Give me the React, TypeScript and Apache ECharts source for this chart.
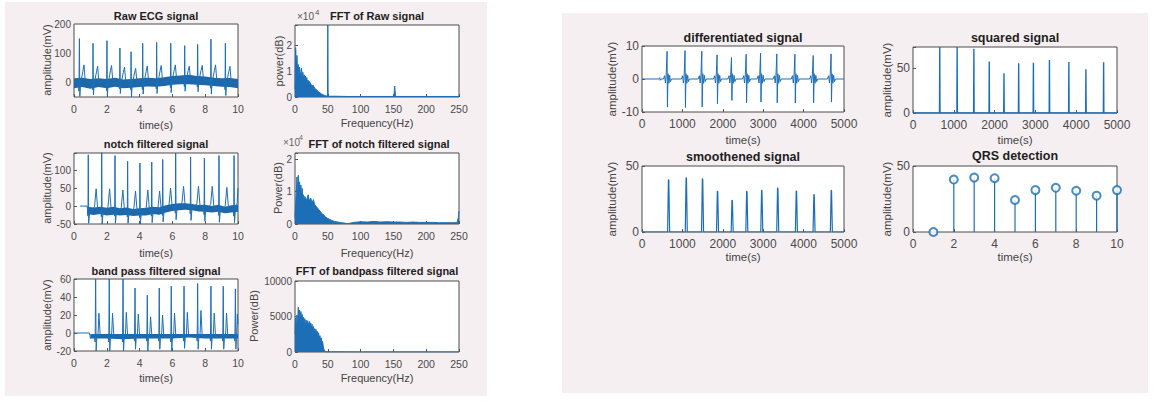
import React, { useEffect, useRef } from 'react';
import * as echarts from 'echarts';

const FONT = '"Liberation Sans", Arial, Helvetica, sans-serif';
const BLUE = '#1c6fb6';
const BAND = '#1e67aa';

// ---------------- data ----------------
// Raw ECG signal: [time(s), amplitude(mV)] pairs, flat
const rawEcg = [
  0, 2, 0.27, 0,
  0.3, -30, 0.33, 150, 0.355, -48, 0.4, -5, 0.54, 38, 0.61, 60, 0.69, 0,
  1.12, 2, 1.14, -25, 1.16, 134, 1.185, -42, 1.23, -6, 1.37, 36, 1.44, 55, 1.52, 0,
  1.97, 2, 1.99, -28, 2.01, 143, 2.035, -50, 2.08, -5, 2.22, 40, 2.29, 58, 2.37, 0,
  2.76, 0, 2.78, -22, 2.8, 118, 2.825, -38, 2.87, -4, 3.01, 35, 3.08, 52, 3.16, 0,
  3.44, 0, 3.46, -25, 3.48, 105, 3.505, -50, 3.55, -6, 3.69, 32, 3.76, 48, 3.84, 0,
  4.15, 2, 4.17, -24, 4.19, 134, 4.215, -40, 4.26, -4, 4.4, 38, 4.47, 56, 4.55, 2,
  5.0, 2, 5.02, -22, 5.04, 137, 5.065, -38, 5.11, -2, 5.25, 40, 5.32, 58, 5.4, 4,
  5.86, 5, 5.88, -18, 5.9, 134, 5.925, -35, 5.97, 2, 6.11, 42, 6.18, 60, 6.26, 8,
  6.71, 8, 6.73, -15, 6.75, 126, 6.775, -30, 6.82, 4, 6.96, 40, 7.03, 55, 7.11, 8,
  7.5, 8, 7.52, -15, 7.54, 130, 7.565, -32, 7.61, 4, 7.75, 42, 7.82, 58, 7.9, 6,
  8.31, 5, 8.33, -20, 8.35, 148, 8.375, -40, 8.42, 0, 8.56, 40, 8.63, 60, 8.71, 4,
  9.19, 2, 9.21, -25, 9.23, 134, 9.255, -45, 9.3, -4, 9.44, 38, 9.51, 55, 9.59, 0,
  10, 0,
];
const rawNoiseT = [0, 0.5, 1, 1.5, 2, 2.5, 3, 3.5, 4, 4.5, 5, 5.5, 6, 6.5, 7, 7.5, 8, 8.5, 9, 9.5, 10];
const rawNoiseLo = [-20, -16, -22, -16, -20, -15, -20, -18, -16, -14, -15, -12, -8, -6, -6, -8, -10, -12, -15, -16, -20];
const rawNoiseHi = [14, 16, 12, 14, 12, 16, 10, 12, 14, 16, 14, 18, 22, 24, 26, 22, 20, 16, 14, 15, 12];

// Notch filtered signal
const notchEcg = [
  0.37, 0, 0.8, 0, 0.83, -10,
  0.85, -28, 0.87, 143, 0.895, -48, 0.95, -18, 1.25, -2, 1.35, 48, 1.45, -12,
  1.65, -12, 1.67, -30, 1.69, 150, 1.715, -50, 1.77, -20, 2.07, -3, 2.17, 48, 2.27, -12,
  2.46, -12, 2.48, -28, 2.5, 141, 2.525, -48, 2.58, -20, 2.88, -4, 2.98, 45, 3.08, -14,
  3.23, -14, 3.25, -30, 3.27, 125, 3.295, -48, 3.35, -22, 3.65, -6, 3.75, 42, 3.85, -14,
  3.98, -14, 4.0, -32, 4.02, 120, 4.045, -50, 4.1, -22, 4.4, -5, 4.5, 45, 4.6, -12,
  4.7, -12, 4.72, -28, 4.74, 123, 4.765, -46, 4.82, -20, 5.12, -4, 5.22, 42, 5.32, -10,
  5.37, -10, 5.39, -26, 5.41, 130, 5.435, -44, 5.49, -16, 5.79, 2, 5.89, 50, 5.99, -4,
  6.16, -2, 6.18, -20, 6.2, 148, 6.225, -38, 6.28, -8, 6.58, 8, 6.68, 55, 6.78, 0,
  7.07, -2, 7.09, -22, 7.11, 137, 7.135, -40, 7.19, -10, 7.49, 6, 7.59, 55, 7.69, -2,
  7.91, -4, 7.93, -24, 7.95, 134, 7.975, -42, 8.03, -12, 8.33, 4, 8.43, 55, 8.53, -4,
  8.8, -6, 8.82, -26, 8.84, 141, 8.865, -45, 8.92, -14, 9.22, 0, 9.32, 52, 9.42, -6,
  9.72, -6, 9.74, -28, 9.76, 141, 9.785, -46, 9.84, -14, 9.95, 10, 10, 50,
];
const notchNoiseT = [0.8, 1.2, 1.6, 2.0, 2.4, 2.8, 3.2, 3.6, 4.0, 4.4, 4.8, 5.2, 5.6, 6.0, 6.4, 6.8, 7.2, 7.6, 8.0, 8.4, 8.8, 9.2, 9.6, 10];
const notchNoiseLo = [-22, -25, -22, -26, -24, -26, -25, -28, -26, -26, -22, -24, -18, -14, -12, -10, -12, -15, -16, -18, -16, -20, -18, -16];
const notchNoiseHi = [-2, -4, -2, -5, -2, -6, -4, -8, -6, -5, -2, -3, 2, 6, 8, 8, 6, 3, 4, 0, 4, -2, 2, 4];

// Band pass filtered signal
const bandEcg = [
  0, 0, 0.95, 0, 1.0, -6, 1.1, -2, 1.22, -3,
  1.26, -3, 1.29, -10, 1.32, 60, 1.35, -20, 1.39, -6, 1.47, 0, 1.52, 22, 1.6, -4,
  2.09, -3, 2.12, -10, 2.15, 60, 2.18, -20, 2.22, -6, 2.3, 0, 2.35, 22, 2.43, -4,
  2.93, -3, 2.96, -10, 2.99, 60, 3.02, -20, 3.06, -6, 3.14, 0, 3.19, 23, 3.27, -4,
  3.66, -3, 3.69, -9, 3.72, 50, 3.75, -18, 3.79, -6, 3.87, 0, 3.92, 21, 4.0, -4,
  4.41, -3, 4.44, -9, 4.47, 42, 4.5, -20, 4.54, -6, 4.62, 0, 4.67, 18, 4.75, -4,
  5.14, -3, 5.17, -9, 5.2, 50, 5.23, -18, 5.27, -6, 5.35, 0, 5.4, 20, 5.48, -4,
  5.87, -3, 5.9, -10, 5.93, 52, 5.96, -20, 6.0, -6, 6.08, 0, 6.13, 22, 6.21, -4,
  6.65, -3, 6.68, -9, 6.71, 52, 6.74, -17, 6.78, -6, 6.86, 0, 6.91, 23, 6.99, -4,
  7.48, -3, 7.51, -9, 7.54, 55, 7.57, -18, 7.61, -6, 7.69, 0, 7.74, 25, 7.82, -4,
  8.29, -3, 8.32, -9, 8.35, 52, 8.38, -18, 8.42, -6, 8.5, 0, 8.55, 22, 8.63, -4,
  9.04, -3, 9.07, -9, 9.1, 52, 9.13, -18, 9.17, -6, 9.25, 0, 9.3, 22, 9.38, -4,
  9.78, -3, 9.81, -9, 9.84, 49, 9.87, -18, 9.91, -6, 9.96, 21, 10, 10,
];
const bandNoiseT = [1.0, 2, 3, 4, 5, 6, 7, 8, 9, 10];
const bandNoiseLo = [-6, -6, -7, -6, -6, -6, -5, -6, -6, -6];
const bandNoiseHi = [-1, -1, -1, -1, -1, -1, -1, -1, -1, -1];

// FFT spectra
const fftRawF = [0, 1, 2, 3, 4, 5, 6, 7, 8, 9, 10, 11, 12, 13, 14, 15, 16, 17, 18, 19, 20, 21, 22, 24, 26, 28, 30, 32, 34, 36, 38, 40, 42, 44, 46, 48, 49.5, 50, 50.5, 52, 60, 80, 100, 120, 140, 150, 151, 152, 153, 154, 170, 200, 230, 250];
const fftRawP = [0.3, 1.9, 1.2, 1.6, 1.0, 1.25, 0.85, 1.15, 0.95, 0.8, 1.1, 0.75, 0.95, 0.7, 0.85, 0.65, 0.8, 0.55, 0.75, 0.5, 0.65, 0.45, 0.6, 0.5, 0.42, 0.45, 0.32, 0.3, 0.25, 0.2, 0.16, 0.12, 0.1, 0.07, 0.05, 0.04, 0.04, 2.77, 0.04, 0.03, 0.03, 0.02, 0.02, 0.02, 0.02, 0.02, 0.08, 0.42, 0.08, 0.02, 0.02, 0.02, 0.02, 0.02];

const fftNotchF = [0, 1, 2, 3, 4, 5, 6, 7, 8, 9, 10, 11, 12, 13, 14, 15, 16, 18, 20, 22, 24, 26, 28, 30, 32, 34, 36, 38, 40, 42, 44, 46, 48, 50, 53, 56, 60, 65, 70, 75, 80, 85, 90, 100, 110, 120, 130, 140, 150, 160, 170, 180, 190, 200, 210, 220, 230, 240, 247, 248, 249, 250];
const fftNotchP = [0.2, 0.6, 1.0, 1.45, 0.8, 1.5, 1.0, 1.3, 0.9, 1.2, 0.8, 1.1, 0.75, 0.9, 0.7, 0.85, 0.8, 0.75, 0.9, 0.7, 0.8, 0.65, 0.75, 0.6, 0.55, 0.5, 0.45, 0.4, 0.35, 0.3, 0.28, 0.22, 0.2, 0.17, 0.14, 0.11, 0.08, 0.06, 0.04, 0.03, 0.01, 0.03, 0.05, 0.07, 0.06, 0.08, 0.06, 0.07, 0.06, 0.06, 0.05, 0.06, 0.05, 0.05, 0.05, 0.04, 0.04, 0.04, 0.04, 0.12, 0.2, 0.4];

const fftBandF = [0, 1, 2, 3, 4, 5, 6, 7, 8, 9, 10, 11, 12, 13, 14, 15, 16, 17, 18, 19, 20, 21, 22, 23, 24, 25, 26, 27, 28, 29, 30, 31, 32, 33, 34, 35, 36, 37, 38, 39, 40, 41, 42, 43, 44, 46, 50, 100, 150, 200, 250];
const fftBandP = [2500, 4800, 3000, 5200, 3800, 6300, 4400, 5900, 4000, 5700, 4600, 5300, 3900, 4900, 4200, 4700, 3600, 4500, 3800, 4400, 4200, 3400, 4300, 3500, 4100, 3300, 3900, 3000, 3600, 2800, 3300, 2600, 3200, 2400, 2900, 2200, 2700, 1900, 2300, 1600, 2000, 1300, 1500, 900, 400, 50, 20, 10, 10, 10, 10];

// Differentiated signal: [sample, amplitude]
const diffSig = [
  0, 0, 420, 0, 440, 0.4, 450, -0.4, 470, 0,
  530, 0, 560, 1, 580, -1.2, 600, 1.4, 620, 8.4, 630, -8.5, 645, 1.6, 665, -1.3, 685, 1.1, 705, -0.8, 730, 0,
  975, 0, 1005, 1, 1025, -1.2, 1045, 1.4, 1065, 8.6, 1075, -8.6, 1090, 1.6, 1110, -1.3, 1130, 1.1, 1150, -0.8, 1175, 0,
  1390, 0, 1420, 1, 1440, -1.2, 1460, 1.4, 1480, 8.4, 1490, -8.5, 1505, 1.6, 1525, -1.3, 1545, 1.1, 1565, -0.8, 1590, 0,
  1768, 0, 1798, 1, 1818, -1.2, 1838, 1.4, 1858, 7.3, 1868, -7.5, 1883, 1.6, 1903, -1.3, 1923, 1.1, 1943, -0.8, 1968, 0,
  2125, 0, 2155, 1, 2175, -1.2, 2195, 1.4, 2215, 6.5, 2225, -6.5, 2240, 1.6, 2260, -1.3, 2280, 1.1, 2300, -0.8, 2325, 0,
  2488, 0, 2518, 1, 2538, -1.2, 2558, 1.4, 2578, 7.5, 2588, -7.2, 2603, 1.6, 2623, -1.3, 2643, 1.1, 2663, -0.8, 2688, 0,
  2845, 0, 2875, 1, 2895, -1.2, 2915, 1.4, 2935, 7.8, 2945, -7.0, 2960, 1.6, 2980, -1.3, 3000, 1.1, 3020, -0.8, 3045, 0,
  3247, 0, 3277, 1, 3297, -1.2, 3317, 1.4, 3337, 7.6, 3347, -7.2, 3362, 1.6, 3382, -1.3, 3402, 1.1, 3422, -0.8, 3447, 0,
  3695, 0, 3725, 1, 3745, -1.2, 3765, 1.4, 3785, 7.5, 3795, -7.3, 3810, 1.6, 3830, -1.3, 3850, 1.1, 3870, -0.8, 3895, 0,
  4148, 0, 4178, 1, 4198, -1.2, 4218, 1.4, 4238, 7.1, 4248, -7.2, 4263, 1.6, 4283, -1.3, 4303, 1.1, 4323, -0.8, 4348, 0,
  4590, 0, 4620, 1, 4640, -1.2, 4660, 1.4, 4680, 7.6, 4690, -7.0, 4705, 1.6, 4725, -1.3, 4745, 1.1, 4765, -0.8, 4790, 0,
  5000, 0,
];

// Squared signal
const squaredSig = [
  0, 0,
  650, 0, 656, 73, 662, 0,
  1076, 0, 1082, 73, 1088, 0,
  1486, 0, 1492, 71, 1498, 0,
  1863, 0, 1869, 57, 1875, 0,
  2224, 0, 2230, 44, 2236, 0,
  2584, 0, 2590, 55, 2596, 0,
  2945, 0, 2951, 55.5, 2957, 0,
  3338, 0, 3344, 58.5, 3350, 0,
  3814, 0, 3820, 56.5, 3826, 0,
  4232, 0, 4238, 48.5, 4244, 0,
  4666, 0, 4672, 56, 4678, 0,
  5000, 0,
];

// Smoothened signal
const smoothSig = [
  0, 0,
  634, 0, 654, 39.75, 664, 39, 684, 0,
  1071, 0, 1091, 41.25, 1101, 40.5, 1121, 0,
  1474, 0, 1494, 40.5, 1504, 39.7, 1524, 0,
  1845, 0, 1865, 31, 1875, 30.4, 1895, 0,
  2207, 0, 2227, 24.25, 2237, 23.8, 2257, 0,
  2570, 0, 2590, 31, 2600, 30.4, 2620, 0,
  2940, 0, 2960, 31.75, 2970, 31.1, 2990, 0,
  3335, 0, 3355, 33.5, 3365, 32.8, 3385, 0,
  3797, 0, 3817, 31.25, 3827, 30.6, 3847, 0,
  4234, 0, 4254, 28.5, 4264, 27.9, 4284, 0,
  4662, 0, 4682, 31.75, 4692, 31.1, 4712, 0,
  5000, 0,
];

// QRS detection (stem)
const qrsTime = [1, 2, 3, 4, 5, 6, 7, 8, 9, 10];
const qrsAmp = [0, 39.75, 41.25, 40.75, 24.25, 31.75, 33.5, 31.25, 27.5, 31.75];

// ---------------- layout ----------------
const GRIDS = [
  { left: 74, top: 24, width: 164, height: 73 },
  { left: 295, top: 25, width: 164, height: 72 },
  { left: 74, top: 153, width: 164, height: 71 },
  { left: 295, top: 153, width: 164, height: 71 },
  { left: 74, top: 279, width: 164, height: 72 },
  { left: 295, top: 281, width: 164, height: 71 },
  { left: 642, top: 46, width: 202, height: 66 },
  { left: 913, top: 47, width: 204, height: 66 },
  { left: 642, top: 166, width: 202, height: 66 },
  { left: 913, top: 166, width: 204, height: 66 },
];
// [min, max, tick interval, label step]
const X_AX = [[0, 10, 2, 2], [0, 250, 50, 50], [0, 10, 2, 2], [0, 250, 50, 50], [0, 10, 2, 2], [0, 250, 50, 50], [0, 5000, 1000, 1000], [0, 5000, 1000, 1000], [0, 5000, 1000, 1000], [0, 10, 2, 2]];
const Y_AX = [[-50, 200, 50, 100], [0, 2.77, 1, 1], [-50, 148, 50, 50], [0, 2.19, 1, 1], [-20, 60, 20, 20], [0, 10000, 5000, 5000], [-10, 10, 10, 10], [0, 73, 50, 50], [0, 50, 50, 50], [0, 50, 50, 50]];

const TITLES: [string, number, number][] = [
  ['Raw ECG signal', 156, 16],
  ['FFT of Raw signal', 377, 16],
  ['notch filtered signal', 156, 144],
  ['FFT of notch filtered signal', 379, 144],
  ['band pass filtered signal', 156, 271],
  ['FFT of bandpass filtered signal', 377, 271],
  ['differentiated signal', 743, 38],
  ['squared signal', 1015, 38],
  ['smoothened signal', 743, 157],
  ['QRS detection', 1015, 156],
];
const XLABELS: [string, number, number][] = [
  ['time(s)', 156, 125], ['Frequency(Hz)', 377, 123],
  ['time(s)', 156, 253], ['Frequency(Hz)', 377, 253],
  ['time(s)', 156, 378], ['Frequency(Hz)', 377, 378],
  ['time(s)', 743, 140], ['time(s)', 1015, 140],
  ['time(s)', 743, 257], ['time(s)', 1015, 257],
];
const YLABELS: [string, number, number][] = [
  ['amplitude(mV)', 47, 60], ['power(dB)', 279, 61],
  ['amplitude(mV)', 47, 188], ['Power(dB)', 278, 188],
  ['amplitude(mV)', 47, 315], ['Power(dB)', 254, 316],
  ['amplitude(mV)', 612, 79], ['amplitude(mV)', 887, 80],
  ['amplitude(mV)', 612, 199], ['amplitude(mV)', 887, 199],
];

function toPairs(flat: number[]) {
  const out: number[][] = [];
  for (let i = 0; i < flat.length; i += 2) out.push([flat[i], flat[i + 1]]);
  return out;
}
function zip(a: number[], b: number[]) {
  return a.map((v, i) => [v, b[i]]);
}

function lineS(i: number, data: any[], extra: any = {}) {
  return {
    type: 'line', xAxisIndex: i, yAxisIndex: i, data, symbol: 'none', silent: true,
    lineStyle: { color: BLUE, width: 1 }, itemStyle: { color: BLUE }, clip: true, ...extra,
  };
}
// noise band drawn as a polygon between the lower and upper envelope, through the axis scales
function bandS(i: number, t: number[], lo: number[], hi: number[]) {
  return {
    type: 'custom', xAxisIndex: i, yAxisIndex: i, silent: true, clip: true,
    data: [[t[0], lo[0]]],
    renderItem: (_params: any, api: any) => {
      const pts: number[][] = [];
      for (let j = 0; j < t.length; j++) pts.push(api.coord([t[j], hi[j]]));
      for (let j = t.length - 1; j >= 0; j--) pts.push(api.coord([t[j], lo[j]]));
      return { type: 'polygon', shape: { points: pts }, style: { fill: BAND } };
    },
  };
}

function buildOption() {
  const graphic: any[] = [
    { type: 'rect', z: -10, shape: { x: 5, y: 2, width: 482, height: 394 }, style: { fill: '#f6eff2' } },
    { type: 'rect', z: -10, shape: { x: 562, y: 13, width: 586, height: 380 }, style: { fill: '#f6eff2' } },
  ];
  TITLES.forEach(([t, x, y], i) => {
    graphic.push({ type: 'text', z: 50, x, y, style: { text: t, font: `bold ${i < 6 ? 11 : 12.5}px ${FONT}`, fill: '#1e1e1e', align: 'center', verticalAlign: 'middle' } });
  });
  XLABELS.forEach(([t, x, y], i) => {
    graphic.push({ type: 'text', z: 50, x, y, style: { text: t, font: `${i < 6 ? 11 : 11.5}px ${FONT}`, fill: '#444', align: 'center', verticalAlign: 'middle' } });
  });
  YLABELS.forEach(([t, x, y], i) => {
    graphic.push({ type: 'text', z: 50, x, y, rotation: Math.PI / 2, style: { text: t, font: `${i < 6 ? 11 : 11.5}px ${FONT}`, fill: '#444', align: 'center', verticalAlign: 'middle' } });
  });
  // exponent labels
  graphic.push({ type: 'text', z: 50, x: 297, y: 16, style: { text: '×10', font: `10px ${FONT}`, fill: '#555', align: 'left', verticalAlign: 'middle' } });
  graphic.push({ type: 'text', z: 50, x: 315, y: 12, style: { text: '4', font: `8px ${FONT}`, fill: '#555', align: 'left', verticalAlign: 'middle' } });
  graphic.push({ type: 'text', z: 40, x: 283, y: 142, style: { text: '×10', font: `10px ${FONT}`, fill: '#666', align: 'left', verticalAlign: 'middle' } });
  graphic.push({ type: 'text', z: 40, x: 299, y: 137, style: { text: '4', font: `7px ${FONT}`, fill: '#666', align: 'left', verticalAlign: 'middle' } });

  const fmt = (step: number) => (v: number) => {
    const k = v / step;
    return Math.abs(k - Math.round(k)) < 1e-6 ? String(Math.round(k) * step) : '';
  };

  const xAxis = X_AX.map(([min, max, iv, step], i) => ({
    type: 'value', gridIndex: i, min, max, interval: iv,
    axisLine: { show: false, onZero: false },
    splitLine: { show: false },
    axisTick: { show: true, inside: true, length: 3, lineStyle: { color: '#555' } },
    axisLabel: { color: '#4a4a4a', fontSize: i < 6 ? 10.5 : 12, fontFamily: FONT, margin: 6, formatter: fmt(step) },
  }));
  const yAxis = Y_AX.map(([min, max, iv, step], i) => ({
    type: 'value', gridIndex: i, min, max, interval: iv,
    axisLine: { show: false, onZero: false },
    splitLine: { show: false },
    axisTick: { show: iv === step, inside: true, length: 3, lineStyle: { color: '#555' } },
    axisLabel: { color: '#4a4a4a', fontSize: i < 6 ? 10 : 12, fontFamily: FONT, margin: 3, formatter: fmt(step) },
  }));

  const series: any[] = [
    bandS(0, rawNoiseT, rawNoiseLo, rawNoiseHi),
    lineS(0, toPairs(rawEcg)),
    lineS(1, zip(fftRawF, fftRawP), { areaStyle: { color: BLUE, opacity: 1 } }),
    bandS(2, notchNoiseT, notchNoiseLo, notchNoiseHi),
    lineS(2, toPairs(notchEcg)),
    lineS(3, zip(fftNotchF, fftNotchP), { areaStyle: { color: BLUE, opacity: 1 } }),
    bandS(4, bandNoiseT, bandNoiseLo, bandNoiseHi),
    lineS(4, toPairs(bandEcg)),
    lineS(5, zip(fftBandF, fftBandP), { areaStyle: { color: BLUE, opacity: 1 } }),
    lineS(6, toPairs(diffSig)),
    lineS(7, toPairs(squaredSig), { lineStyle: { color: BLUE, width: 1.4 } }),
    lineS(8, toPairs(smoothSig), { lineStyle: { color: BLUE, width: 1.2 } }),
    {
      type: 'bar', xAxisIndex: 9, yAxisIndex: 9, data: zip(qrsTime, qrsAmp), barWidth: 1.2, silent: true,
      itemStyle: { color: BLUE },
    },
    {
      type: 'scatter', xAxisIndex: 9, yAxisIndex: 9, data: zip(qrsTime, qrsAmp), symbol: 'emptyCircle', symbolSize: 8,
      silent: true, itemStyle: { color: BLUE, borderColor: BLUE, borderWidth: 1.2 }, clip: false, z: 5,
    },
  ];

  return {
    animation: false,
    backgroundColor: '#ffffff',
    graphic,
    grid: GRIDS.map((g) => ({ ...g, show: true, backgroundColor: '#ffffff', borderColor: '#4d4d4d', borderWidth: 1, containLabel: false })),
    xAxis,
    yAxis,
    series,
  };
}

export default function App() {
  const ref = useRef<HTMLDivElement>(null);
  useEffect(() => {
    if (!ref.current) return;
    const chart = echarts.init(ref.current, undefined, { renderer: 'svg' });
    chart.setOption(buildOption() as any);
    return () => chart.dispose();
  }, []);
  return (
    <div
      ref={ref}
      style={{ position: 'fixed', left: 0, top: 0, width: 1153, height: 403, background: '#fff' }}
    />
  );
}
